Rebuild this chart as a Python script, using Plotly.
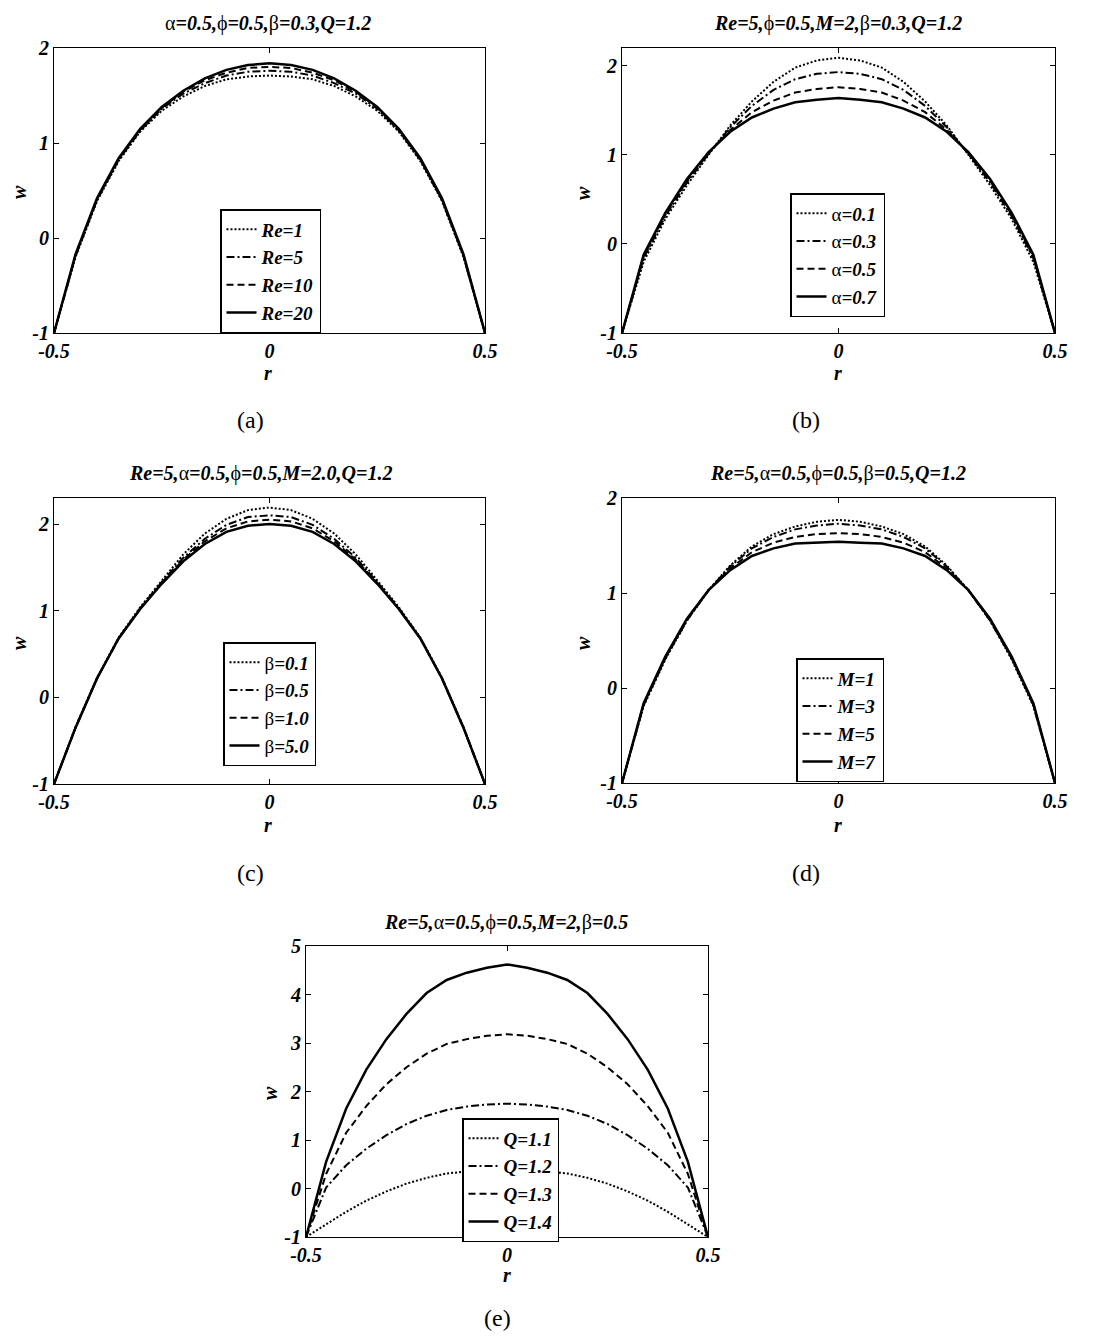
import plotly.graph_objects as go

# radial positions (same grid for every curve)
r = [-0.5, -0.45, -0.4, -0.35, -0.3, -0.25, -0.2, -0.15, -0.1, -0.05, 0.0,
     0.05, 0.1, 0.15, 0.2, 0.25, 0.3, 0.35, 0.4, 0.45, 0.5]

# (a) effect of Re
w_re1 = [-1.0, -0.20, 0.39, 0.81, 1.12, 1.34, 1.49, 1.60, 1.67, 1.70, 1.71, 1.70, 1.67, 1.60, 1.49, 1.34, 1.12, 0.81, 0.39, -0.20, -1.0]
w_re5 = [-1.0, -0.19, 0.40, 0.82, 1.13, 1.36, 1.52, 1.63, 1.71, 1.75, 1.76, 1.75, 1.71, 1.63, 1.52, 1.36, 1.13, 0.82, 0.40, -0.19, -1.0]
w_re10 = [-1.0, -0.18, 0.41, 0.83, 1.14, 1.37, 1.54, 1.66, 1.74, 1.79, 1.80, 1.79, 1.74, 1.66, 1.54, 1.37, 1.14, 0.83, 0.41, -0.18, -1.0]
w_re20 = [-1.0, -0.17, 0.42, 0.84, 1.15, 1.38, 1.55, 1.68, 1.77, 1.82, 1.84, 1.82, 1.77, 1.68, 1.55, 1.38, 1.15, 0.84, 0.42, -0.17, -1.0]
# (b) effect of alpha
w_a01 = [-1.0, -0.20, 0.28, 0.66, 1.00, 1.33, 1.60, 1.82, 1.98, 2.06, 2.09, 2.06, 1.98, 1.82, 1.60, 1.33, 1.00, 0.66, 0.28, -0.20, -1.0]
w_a03 = [-1.0, -0.16, 0.31, 0.69, 1.01, 1.31, 1.55, 1.73, 1.85, 1.91, 1.93, 1.91, 1.85, 1.73, 1.55, 1.31, 1.01, 0.69, 0.31, -0.16, -1.0]
w_a05 = [-1.0, -0.14, 0.33, 0.71, 1.02, 1.28, 1.48, 1.61, 1.70, 1.74, 1.76, 1.74, 1.70, 1.61, 1.48, 1.28, 1.02, 0.71, 0.33, -0.14, -1.0]
w_a07 = [-1.0, -0.12, 0.35, 0.73, 1.03, 1.26, 1.42, 1.52, 1.59, 1.62, 1.64, 1.62, 1.59, 1.52, 1.42, 1.26, 1.03, 0.73, 0.35, -0.12, -1.0]
# (c) effect of beta
w_b01 = [-1.0, -0.34, 0.23, 0.69, 1.04, 1.35, 1.65, 1.89, 2.06, 2.16, 2.19, 2.16, 2.06, 1.89, 1.65, 1.35, 1.04, 0.69, 0.23, -0.34, -1.0]
w_b05 = [-1.0, -0.35, 0.22, 0.68, 1.03, 1.33, 1.61, 1.83, 1.99, 2.08, 2.10, 2.08, 1.99, 1.83, 1.61, 1.33, 1.03, 0.68, 0.22, -0.35, -1.0]
w_b10 = [-1.0, -0.35, 0.22, 0.68, 1.02, 1.32, 1.59, 1.80, 1.95, 2.03, 2.05, 2.03, 1.95, 1.80, 1.59, 1.32, 1.02, 0.68, 0.22, -0.35, -1.0]
w_b50 = [-1.0, -0.35, 0.22, 0.68, 1.02, 1.31, 1.57, 1.77, 1.91, 1.98, 2.00, 1.98, 1.91, 1.77, 1.57, 1.31, 1.02, 0.68, 0.22, -0.35, -1.0]
# (d) effect of M
w_m1 = [-1.0, -0.19, 0.30, 0.71, 1.03, 1.29, 1.49, 1.62, 1.70, 1.75, 1.77, 1.75, 1.70, 1.62, 1.49, 1.29, 1.03, 0.71, 0.30, -0.19, -1.0]
w_m3 = [-1.0, -0.18, 0.31, 0.71, 1.03, 1.28, 1.47, 1.59, 1.67, 1.71, 1.73, 1.71, 1.67, 1.59, 1.47, 1.28, 1.03, 0.71, 0.31, -0.18, -1.0]
w_m5 = [-1.0, -0.17, 0.32, 0.72, 1.03, 1.26, 1.43, 1.53, 1.59, 1.62, 1.63, 1.62, 1.59, 1.53, 1.43, 1.26, 1.03, 0.72, 0.32, -0.17, -1.0]
w_m7 = [-1.0, -0.16, 0.33, 0.73, 1.03, 1.24, 1.39, 1.47, 1.52, 1.53, 1.54, 1.53, 1.52, 1.47, 1.39, 1.24, 1.03, 0.73, 0.33, -0.16, -1.0]
# (e) effect of Q
w_q11 = [-1.0, -0.74, -0.48, -0.25, -0.06, 0.10, 0.22, 0.31, 0.35, 0.37, 0.38, 0.37, 0.35, 0.31, 0.22, 0.10, -0.06, -0.25, -0.48, -0.74, -1.0]
w_q12 = [-1.0, 0.02, 0.48, 0.82, 1.10, 1.33, 1.50, 1.62, 1.69, 1.73, 1.75, 1.73, 1.69, 1.62, 1.50, 1.33, 1.10, 0.82, 0.48, 0.02, -1.0]
w_q13 = [-1.0, 0.30, 1.15, 1.70, 2.15, 2.50, 2.78, 2.98, 3.08, 3.15, 3.18, 3.15, 3.08, 2.98, 2.78, 2.50, 2.15, 1.70, 1.15, 0.30, -1.0]
w_q14 = [-1.0, 0.55, 1.65, 2.45, 3.08, 3.60, 4.03, 4.30, 4.45, 4.55, 4.62, 4.55, 4.45, 4.30, 4.03, 3.60, 3.08, 2.45, 1.65, 0.55, -1.0]

titles = ["α=0.5,ϕ=0.5,β=0.3,Q=1.2",
          "Re=5,ϕ=0.5,M=2,β=0.3,Q=1.2",
          "Re=5,α=0.5,ϕ=0.5,M=2.0,Q=1.2",
          "Re=5,α=0.5,ϕ=0.5,β=0.5,Q=1.2",
          "Re=5,α=0.5,ϕ=0.5,M=2,β=0.5"]
legend_names = [["Re=1", "Re=5", "Re=10", "Re=20"],
                ["α=0.1", "α=0.3", "α=0.5", "α=0.7"],
                ["β=0.1", "β=0.5", "β=1.0", "β=5.0"],
                ["M=1", "M=3", "M=5", "M=7"],
                ["Q=1.1", "Q=1.2", "Q=1.3", "Q=1.4"]]
sublabels = ["(a)", "(b)", "(c)", "(d)", "(e)"]
series = [[w_re1, w_re5, w_re10, w_re20],
          [w_a01, w_a03, w_a05, w_a07],
          [w_b01, w_b05, w_b10, w_b50],
          [w_m1, w_m3, w_m5, w_m7],
          [w_q11, w_q12, w_q13, w_q14]]
y_ticks = [[-1, 0, 1, 2], [-1, 0, 1, 2], [-1, 0, 1, 2], [-1, 0, 1, 2],
           [-1, 0, 1, 2, 3, 4, 5]]
x_ticks = [-0.5, 0, 0.5]

# page has an 8px body margin, so the figure is a bit smaller than the window
OFF = 8
W, H = 1107 - OFF, 1337 - OFF
FONT = "Liberation Serif"
GREEK = "αβϕ"

# pixel layout of each panel (window coords): left, right, top, bottom, y-range top
boxes = [(54, 485, 48, 333, 2.0),
         (622, 1055, 48, 333, 2.2),
         (54, 485, 498, 784, 2.3),
         (622, 1055, 498, 783, 2.0),
         (306, 708, 946, 1237, 5.0)]
legend_pos = [(220, 209), (790, 193), (223, 642), (796, 658), (462, 1118)]
title_pos = [(268, 23), (838, 23), (260, 473), (838, 473), (506, 922)]
sub_pos = [(250, 420), (806, 420), (250, 873), (806, 873), (497, 1318)]
rlab_pos = [(268, 373), (838, 373), (268, 825), (838, 825), (507, 1275)]
wlab_pos = [(19, 192), (583, 193), (19, 643), (583, 643), (270, 1093)]

dashes = ["2px,2px", "8px,3px,2px,3px", "7px,4px", "solid"]
widths = [2, 2, 2, 2.5]


def fmt(s):
    # greek letters upright, everything else bold italic
    out, run = "", ""
    for ch in s:
        if ch in GREEK:
            if run:
                out += "<b><i>" + run + "</i></b>"
                run = ""
            out += ch
        else:
            run += ch
    if run:
        out += "<b><i>" + run + "</i></b>"
    return out


def px_x(v):
    return (v - OFF) / W


def px_y(v):
    return 1 - (v - OFF) / H


def label(x, y, text, size, angle=0):
    return dict(x=px_x(x), y=px_y(y), xref="paper", yref="paper",
                xanchor="center", yanchor="middle", text=text, showarrow=False,
                textangle=angle, font=dict(family=FONT, size=size, color="black"))


fig = go.Figure()
annotations = []
layout = dict(template="none", width=W, height=H,
              margin=dict(l=0, r=0, t=0, b=0, pad=0),
              paper_bgcolor="white", plot_bgcolor="white",
              font=dict(family=FONT, color="black"))

for k in range(5):
    sfx = "" if k == 0 else str(k + 1)
    xa, ya = "x" + sfx, "y" + sfx
    lg = "legend" + sfx
    left, right, top, bottom, ytop = boxes[k]

    for j in range(4):
        fig.add_trace(go.Scatter(
            x=r, y=series[k][j], mode="lines", name=fmt(legend_names[k][j]),
            xaxis=xa, yaxis=ya, legend=lg,
            line=dict(color="black", width=widths[j], dash=dashes[j])))

    tickfont = dict(family=FONT, size=20, color="black", weight="bold", style="italic")
    layout["xaxis" + sfx] = dict(
        domain=[px_x(left), px_x(right)], range=[-0.5, 0.5], anchor=ya,
        tickvals=x_ticks, ticktext=["-0.5", "0", "0.5"], tickfont=tickfont,
        ticks="inside", ticklen=5, tickcolor="black", showline=True,
        linecolor="black", linewidth=1, mirror="ticks", showgrid=False,
        zeroline=False, automargin=False)
    layout["yaxis" + sfx] = dict(
        domain=[px_y(bottom), px_y(top)], range=[-1, ytop], anchor=xa,
        tickvals=y_ticks[k], ticktext=[str(t) for t in y_ticks[k]],
        tickfont=tickfont, ticks="inside", ticklen=5, tickcolor="black",
        showline=True, linecolor="black", linewidth=1, mirror="ticks",
        showgrid=False, zeroline=False, automargin=False)

    lx, ly = legend_pos[k]
    layout[lg] = dict(x=px_x(lx), y=px_y(ly), xanchor="left", yanchor="top",
                      bgcolor="white", bordercolor="black", borderwidth=1.5,
                      font=dict(family=FONT, size=19, color="black"),
                      itemwidth=30, tracegroupgap=0)

    annotations.append(label(*title_pos[k], fmt(titles[k]), 20))
    annotations.append(label(*sub_pos[k], sublabels[k], 24))
    annotations.append(label(*rlab_pos[k], "<b><i>r</i></b>", 20))
    annotations.append(label(*wlab_pos[k], "<b><i>w</i></b>", 20, -90))

layout["annotations"] = annotations
fig.update_layout(**layout)

fig.write_html("out.html")
